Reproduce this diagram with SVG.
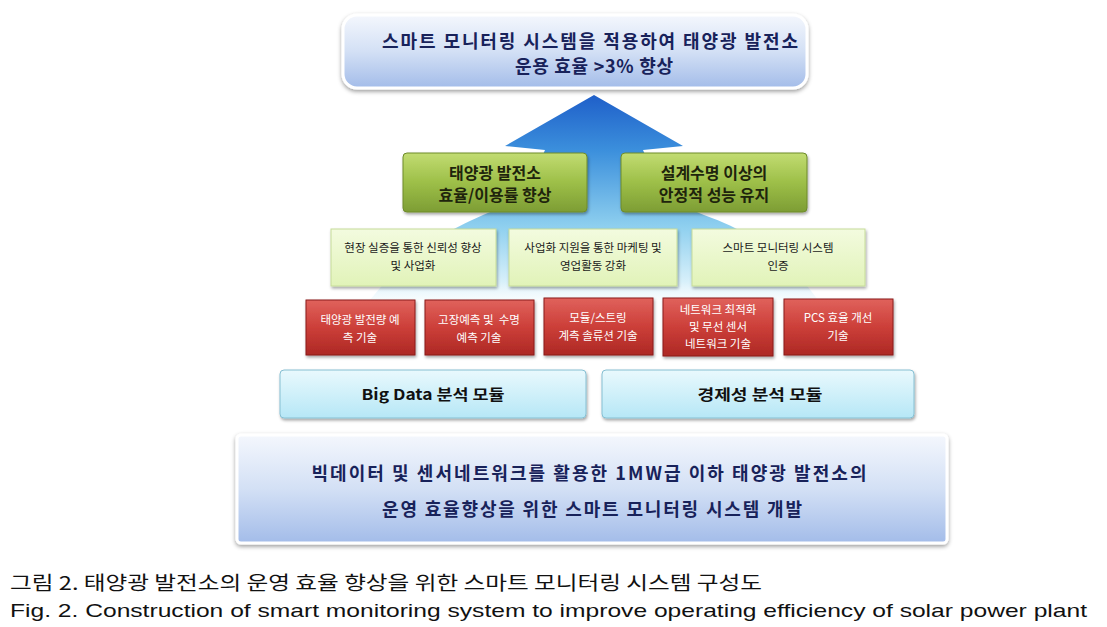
<svg xmlns="http://www.w3.org/2000/svg" width="1107" height="627" viewBox="0 0 1107 627">
<defs>
<linearGradient id="gBlueBox" x1="0" y1="0" x2="0" y2="1">
<stop offset="0" stop-color="#f4f7fd"/>
<stop offset="0.5" stop-color="#d3e0f5"/>
<stop offset="1" stop-color="#a3bce9"/>
</linearGradient>
<linearGradient id="gArrow" x1="0" y1="95" x2="0" y2="315" gradientUnits="userSpaceOnUse">
<stop offset="0" stop-color="#1f5fc9"/>
<stop offset="0.25" stop-color="#3b8fdc"/>
<stop offset="0.6" stop-color="#8fd0ef"/>
<stop offset="0.85" stop-color="#d8f0fa"/>
<stop offset="1" stop-color="#ffffff" stop-opacity="0"/>
</linearGradient>
<linearGradient id="gGreen" x1="0" y1="0" x2="0" y2="1">
<stop offset="0" stop-color="#c2dc72"/>
<stop offset="0.5" stop-color="#9dbf48"/>
<stop offset="1" stop-color="#7d9d34"/>
</linearGradient>
<linearGradient id="gLight" x1="0" y1="0" x2="0" y2="1">
<stop offset="0" stop-color="#f3fbdf"/>
<stop offset="1" stop-color="#e1f3b8"/>
</linearGradient>
<linearGradient id="gRed" x1="0" y1="0" x2="0" y2="1">
<stop offset="0" stop-color="#e0625c"/>
<stop offset="0.5" stop-color="#cc3f39"/>
<stop offset="1" stop-color="#ad2824"/>
</linearGradient>
<linearGradient id="gCyan" x1="0" y1="0" x2="0" y2="1">
<stop offset="0" stop-color="#e9f9fd"/>
<stop offset="1" stop-color="#b6e7f6"/>
</linearGradient>
<filter id="sh" x="-10%" y="-20%" width="120%" height="150%">
<feDropShadow dx="1" dy="2" stdDeviation="1.5" flood-color="#000" flood-opacity="0.35"/>
</filter>
<filter id="shBig" x="-5%" y="-20%" width="110%" height="150%">
<feDropShadow dx="0" dy="2" stdDeviation="2" flood-color="#000" flood-opacity="0.4"/>
</filter>
<style>
.kr{font-family:"Noto Sans CJK KR","Noto Sans",sans-serif}
.big{font-size:18px;font-weight:bold;fill:#18225a;text-anchor:middle}
.grn{font-size:16px;font-weight:bold;fill:#1e240c;text-anchor:middle}
.lt{font-size:11.5px;fill:#1a1a1a;text-anchor:middle}
.rd{font-size:11.5px;fill:#ffffff;text-anchor:middle}
.cy{font-size:15px;font-weight:bold;fill:#111111;text-anchor:middle}
.redbox{fill:url(#gRed);stroke:#8a1c1a;stroke-width:1}
.ltbox{fill:url(#gLight);stroke:#c6dc99;stroke-width:1}
.grbox{fill:url(#gGreen);stroke:#6e8b2b;stroke-width:1}
.cybox{fill:url(#gCyan);stroke:#86bfd2;stroke-width:1}
.bluebox{fill:url(#gBlueBox);stroke:#ffffff;stroke-width:3}
</style>
</defs>
<rect width="1107" height="627" fill="#ffffff"/>

<g id="connectors">
<path d="M594,95 L505,146 L545,150 C 530,185 510,205 483,215 C 465,223 452,230 441,236 C 410,255 390,275 370,300 L 818,300 C 800,275 780,255 750,236 C 738,229 724,222 704,215 C 678,205 658,185 643,150 L683,146 Z" fill="url(#gArrow)"/>
</g>

<g id="goal">
<rect x="343" y="15" width="464" height="73" rx="14" class="bluebox" filter="url(#shBig)"/>
<text class="kr big" x="590" y="48" textLength="416" lengthAdjust="spacing">스마트 모니터링 시스템을 적용하여 태양광 발전소</text>
<text class="kr big" x="594" y="73" textLength="158" lengthAdjust="spacing">운용 효율 &gt;3% 향상</text>
</g>

<g id="green1">
<rect x="403" y="153" width="184" height="59" rx="4" class="grbox" filter="url(#sh)"/>
<text class="kr grn" x="495" y="179">태양광 발전소</text>
<text class="kr grn" x="495" y="201">효율/이용률 향상</text>
</g>
<g id="green2">
<rect x="621" y="153" width="186" height="59" rx="4" class="grbox" filter="url(#sh)"/>
<text class="kr grn" x="714" y="179">설계수명 이상의</text>
<text class="kr grn" x="714" y="201">안정적 성능 유지</text>
</g>

<g id="light1">
<rect x="331" y="229" width="165" height="57" class="ltbox" filter="url(#sh)"/>
<text class="kr lt" x="413" y="252">현장 실증을 통한 신뢰성 향상</text>
<text class="kr lt" x="413" y="270">및 사업화</text>
</g>
<g id="light2">
<rect x="509" y="229" width="168" height="57" class="ltbox" filter="url(#sh)"/>
<text class="kr lt" x="593" y="252">사업화 지원을 통한 마케팅 및</text>
<text class="kr lt" x="593" y="270">영업활동 강화</text>
</g>
<g id="light3">
<rect x="692" y="229" width="173" height="57" class="ltbox" filter="url(#sh)"/>
<text class="kr lt" x="778" y="252">스마트 모니터링 시스템</text>
<text class="kr lt" x="778" y="270">인증</text>
</g>

<g id="red1">
<rect x="306" y="300" width="109" height="55" class="redbox" filter="url(#sh)"/>
<text class="kr rd" x="360" y="324">태양광 발전량 예</text>
<text class="kr rd" x="360" y="342">측 기술</text>
</g>
<g id="red2">
<rect x="425" y="300" width="109" height="55" class="redbox" filter="url(#sh)"/>
<text class="kr rd" x="479" y="324" xml:space="preserve">고장예측 및  수명</text>
<text class="kr rd" x="479" y="342">예측 기술</text>
</g>
<g id="red3">
<rect x="544" y="298" width="109" height="57" class="redbox" filter="url(#sh)"/>
<text class="kr rd" x="598" y="322">모듈/스트링</text>
<text class="kr rd" x="598" y="340">계측 솔류션 기술</text>
</g>
<g id="red4">
<rect x="663" y="298" width="110" height="58" class="redbox" filter="url(#sh)"/>
<text class="kr rd" x="718" y="314">네트워크 최적화</text>
<text class="kr rd" x="718" y="331">및 무선 센서</text>
<text class="kr rd" x="718" y="348">네트워크 기술</text>
</g>
<g id="red5">
<rect x="784" y="299" width="109" height="56" class="redbox" filter="url(#sh)"/>
<text class="kr rd" x="838" y="322">PCS 효율 개선</text>
<text class="kr rd" x="838" y="340">기술</text>
</g>

<g id="bigdata">
<rect x="280" y="370" width="306" height="48" rx="4" class="cybox" filter="url(#sh)"/>
<text class="kr cy" x="433" y="400" textLength="143" lengthAdjust="spacingAndGlyphs">Big Data 분석 모듈</text>
</g>
<g id="econ">
<rect x="602" y="370" width="312" height="48" rx="4" class="cybox" filter="url(#sh)"/>
<text class="kr cy" x="760" y="400" textLength="125" lengthAdjust="spacingAndGlyphs">경제성 분석 모듈</text>
</g>

<g id="base">
<rect x="237" y="435" width="710" height="108" rx="4" class="bluebox" filter="url(#shBig)"/>
<text class="kr big" x="589" y="480" textLength="555" lengthAdjust="spacing">빅데이터 및 센서네트워크를 활용한 1MW급 이하 태양광 발전소의</text>
<text class="kr big" x="592" y="516" textLength="420" lengthAdjust="spacing">운영 효율향상을 위한 스마트 모니터링 시스템 개발</text>
</g>

<g id="caption">
<text class="kr" x="10" y="590" font-size="19" fill="#111" textLength="752" lengthAdjust="spacingAndGlyphs">그림 2. 태양광 발전소의 운영 효율 향상을 위한 스마트 모니터링 시스템 구성도</text>
<text x="10" y="617" font-family="Liberation Sans, Arial, sans-serif" font-size="19" fill="#111" textLength="1077" lengthAdjust="spacingAndGlyphs">Fig. 2. Construction of smart monitoring system to improve operating efficiency of solar power plant</text>
</g>
</svg>
